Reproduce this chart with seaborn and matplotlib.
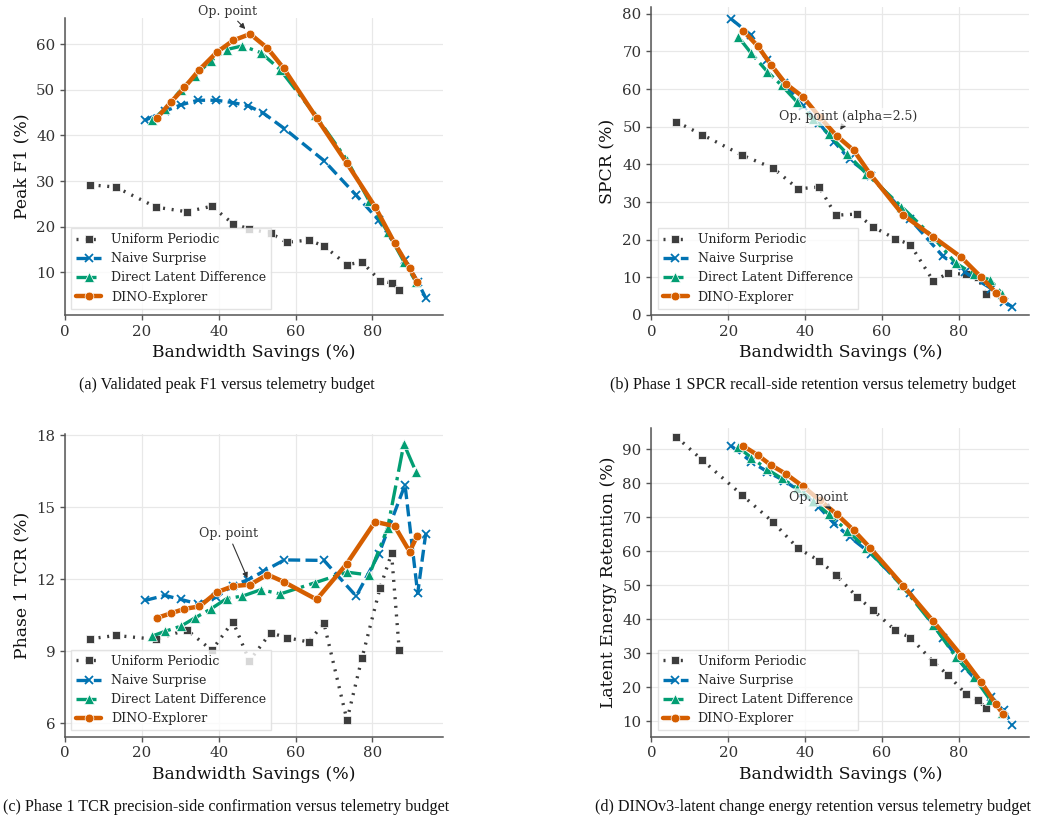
import matplotlib
matplotlib.use("Agg")
import matplotlib.pyplot as plt
import seaborn as sns

# bandwidth savings (%) per operating point, one list per method
bw_uniform = [6.5, 13.2, 23.7, 31.7, 38.2, 43.7, 48.0, 53.5, 57.7, 63.4, 67.4, 73.4, 77.3, 82.0, 85.0, 87.0]
bw_naive = [20.8, 26.0, 30.2, 34.6, 39.4, 43.6, 47.6, 51.6, 57.1, 67.4, 75.8, 81.7, 88.5, 91.8, 93.9]
bw_direct = [22.6, 26.0, 30.2, 33.9, 37.9, 42.1, 46.2, 51.0, 56.0, 65.1, 73.4, 79.2, 84.0, 88.2, 91.4]
bw_dino = [23.9, 27.7, 31.1, 35.0, 39.5, 43.8, 48.2, 52.7, 56.9, 65.5, 73.3, 80.7, 85.8, 89.7, 91.6]

# (a) peak F1
f1_uniform = [29.2, 28.7, 24.3, 23.3, 24.5, 20.7, 19.5, 18.6, 16.6, 17.1, 15.8, 11.7, 12.3, 8.2, 7.7, 6.2]
f1_naive = [43.3, 45.3, 46.7, 47.7, 47.7, 47.2, 46.5, 44.9, 41.5, 34.5, 26.9, 21.4, 12.8, 8.0, 4.4]
f1_direct = [43.3, 45.8, 50.0, 53.1, 56.3, 58.8, 59.6, 58.1, 54.4, 44.5, 34.6, 25.6, 18.8, 12.4, 7.9]
f1_dino = [43.8, 47.4, 50.5, 54.4, 58.2, 60.8, 62.2, 59.1, 54.7, 43.8, 34.0, 24.4, 16.4, 10.9, 8.0]

# (b) SPCR
spcr_uniform = [51.3, 47.9, 42.4, 39.0, 33.5, 34.0, 26.5, 26.8, 23.4, 20.3, 18.7, 9.0, 11.1, 10.8, 10.0, 5.6]
spcr_naive = [78.6, 74.3, 67.7, 61.5, 55.6, 51.0, 46.0, 41.3, 37.0, 25.4, 15.7, 11.3, 7.0, 3.5, 2.2]
spcr_direct = [73.9, 69.5, 64.6, 61.0, 56.6, 52.0, 48.0, 42.7, 37.5, 28.8, 20.6, 13.8, 10.8, 9.3, 5.5]
spcr_dino = [75.5, 71.4, 66.5, 61.4, 57.9, 52.6, 47.6, 43.7, 37.5, 26.6, 20.8, 15.3, 10.1, 5.9, 4.2]

# (c) Phase 1 TCR
tcr_uniform = [9.52, 9.66, 9.50, 9.90, 9.04, 10.24, 8.60, 9.77, 9.57, 9.39, 10.17, 6.13, 8.72, 11.64, 13.08, 9.04]
tcr_naive = [11.12, 11.33, 11.16, 10.98, 11.25, 11.74, 11.98, 12.33, 12.81, 12.79, 11.30, 13.06, 15.94, 11.42, 13.91]
tcr_direct = [9.63, 9.83, 10.05, 10.40, 10.76, 11.20, 11.30, 11.57, 11.39, 11.86, 12.30, 12.18, 14.16, 17.65, 16.47]
tcr_dino = [10.39, 10.59, 10.77, 10.87, 11.46, 11.72, 11.78, 12.20, 11.90, 11.16, 12.64, 14.40, 14.22, 13.16, 13.79]

# (d) latent energy retention
energy_uniform = [93.6, 86.8, 76.4, 68.5, 60.8, 57.2, 53.1, 46.6, 42.7, 36.8, 34.6, 27.5, 23.5, 17.9, 16.2, 14.0]
energy_naive = [90.9, 86.3, 83.3, 80.7, 77.0, 73.0, 68.1, 64.2, 59.3, 47.6, 34.6, 25.6, 17.2, 13.3, 8.9]
energy_direct = [90.5, 87.5, 84.0, 81.4, 78.5, 74.8, 70.8, 66.0, 60.8, 50.0, 38.3, 29.0, 23.0, 16.3, 12.6]
energy_dino = [90.9, 88.2, 85.3, 82.7, 79.0, 75.0, 70.9, 66.1, 61.0, 49.9, 39.5, 29.3, 21.6, 15.0, 12.1]

method_names = ["Uniform Periodic", "Naive Surprise", "Direct Latent Difference", "DINO-Explorer"]
method_bw = [bw_uniform, bw_naive, bw_direct, bw_dino]
op_index = 6  # DINO-Explorer operating point

sns.set_style("whitegrid")
plt.rcParams['font.family'] = 'serif'
plt.rcParams['font.serif'] = ['DejaVu Serif']

pal = sns.color_palette("colorblind")
styles = [
    dict(color="#3d3d3d", marker="s", linestyle=(0, (0.6, 2.0)), linewidth=2.4, markersize=6,
         markeredgecolor="white", markeredgewidth=0.5),
    dict(color=pal[0], marker="x", linestyle=(0, (3.6, 1.6)), linewidth=2.4, markersize=5.5,
         markeredgecolor=pal[0], markeredgewidth=1.3),
    dict(color=pal[2], marker="^", linestyle=(0, (6.0, 1.6, 1.0, 1.6)), linewidth=2.4, markersize=6.5,
         markeredgecolor="white", markeredgewidth=0.5),
    dict(color=pal[3], marker="o", linestyle="-", linewidth=3.2, markersize=6.3,
         markeredgecolor="white", markeredgewidth=0.5),
]

panels = [
    dict(ys=[f1_uniform, f1_naive, f1_direct, f1_dino], ylabel="Peak F1 (%)",
         ylim=(0.7, 65.7), yticks=[10, 20, 30, 40, 50, 60],
         rect=[0.0625, 0.6168, 0.3635, 0.3613],
         note="Op. point", note_xy=(42.4, 67.2),
         caption="(a) Validated peak F1 versus telemetry budget", cap_xy=(226.7, 385)),
    dict(ys=[spcr_uniform, spcr_naive, spcr_direct, spcr_dino], ylabel="SPCR (%)",
         ylim=(0, 81.8), yticks=[0, 10, 20, 30, 40, 50, 60, 70, 80],
         rect=[0.6263, 0.6168, 0.3635, 0.3747],
         note="Op. point (alpha=2.5)", note_xy=(51.3, 52.6),
         caption="(b) Phase 1 SPCR recall-side retention versus telemetry budget", cap_xy=(813, 385)),
    dict(ys=[tcr_uniform, tcr_naive, tcr_direct, tcr_dino], ylabel="Phase 1 TCR (%)",
         ylim=(5.44, 18.05), yticks=[6, 9, 12, 15, 18],
         rect=[0.0625, 0.1038, 0.3635, 0.3679],
         note="Op. point", note_xy=(42.5, 13.9),
         caption="(c) Phase 1 TCR precision-side confirmation versus telemetry budget", cap_xy=(226.3, 806.7)),
    dict(ys=[energy_uniform, energy_naive, energy_direct, energy_dino], ylabel="Latent Energy Retention (%)",
         ylim=(5.5, 96.1), yticks=[10, 20, 30, 40, 50, 60, 70, 80, 90],
         rect=[0.6263, 0.1038, 0.3635, 0.3752],
         note="Op. point", note_xy=(43.5, 75.8),
         caption="(d) DINOv3-latent change energy retention versus telemetry budget", cap_xy=(812.5, 806.7)),
]

W, H = 1040, 822
fig = plt.figure(figsize=(W / 100, H / 100), dpi=100)

for p in panels:
    ax = fig.add_axes(p["rect"])
    for name, bw, ys, st in zip(method_names, method_bw, p["ys"], styles):
        sns.lineplot(x=bw, y=ys, ax=ax, label=name, **st)

    ax.set_xlim(0, 98.4)
    ax.set_ylim(*p["ylim"])
    ax.set_xticks([0, 20, 40, 60, 80])
    ax.set_yticks(p["yticks"])
    ax.set_xlabel("Bandwidth Savings (%)", fontsize=12.4, color="#111111")
    ax.set_ylabel(p["ylabel"], fontsize=12.4, color="#111111")
    ax.grid(True, color="#e8e8e8", linewidth=0.9)
    for side in ["top", "right"]:
        ax.spines[side].set_visible(False)
    for side in ["left", "bottom"]:
        ax.spines[side].set_color("#555555")
        ax.spines[side].set_linewidth(1.1)
    ax.tick_params(bottom=True, left=True, length=3.5, width=1, color="#555555",
                   labelsize=10.8, labelcolor="#333333")

    ax.annotate(p["note"], xy=(bw_dino[op_index], p["ys"][3][op_index]), xytext=p["note_xy"],
                fontsize=9, color="#333333", ha="center", va="center", annotation_clip=False,
                bbox=dict(boxstyle="round,pad=0.2", fc="white", ec="none", alpha=0.7),
                arrowprops=dict(arrowstyle="-|>", color="#333333", lw=0.8, mutation_scale=8,
                                shrinkA=1, shrinkB=5))

    ax.legend(loc="lower left", fontsize=9, frameon=True, framealpha=0.8,
              edgecolor="#dddddd", fancybox=False, borderaxespad=0.5)

    fig.text(p["cap_xy"][0] / W, 1 - p["cap_xy"][1] / H, p["caption"], ha="center", va="center",
             fontsize=11.6, family="Liberation Serif", color="#111111")

fig.savefig("out.png", dpi=100)
